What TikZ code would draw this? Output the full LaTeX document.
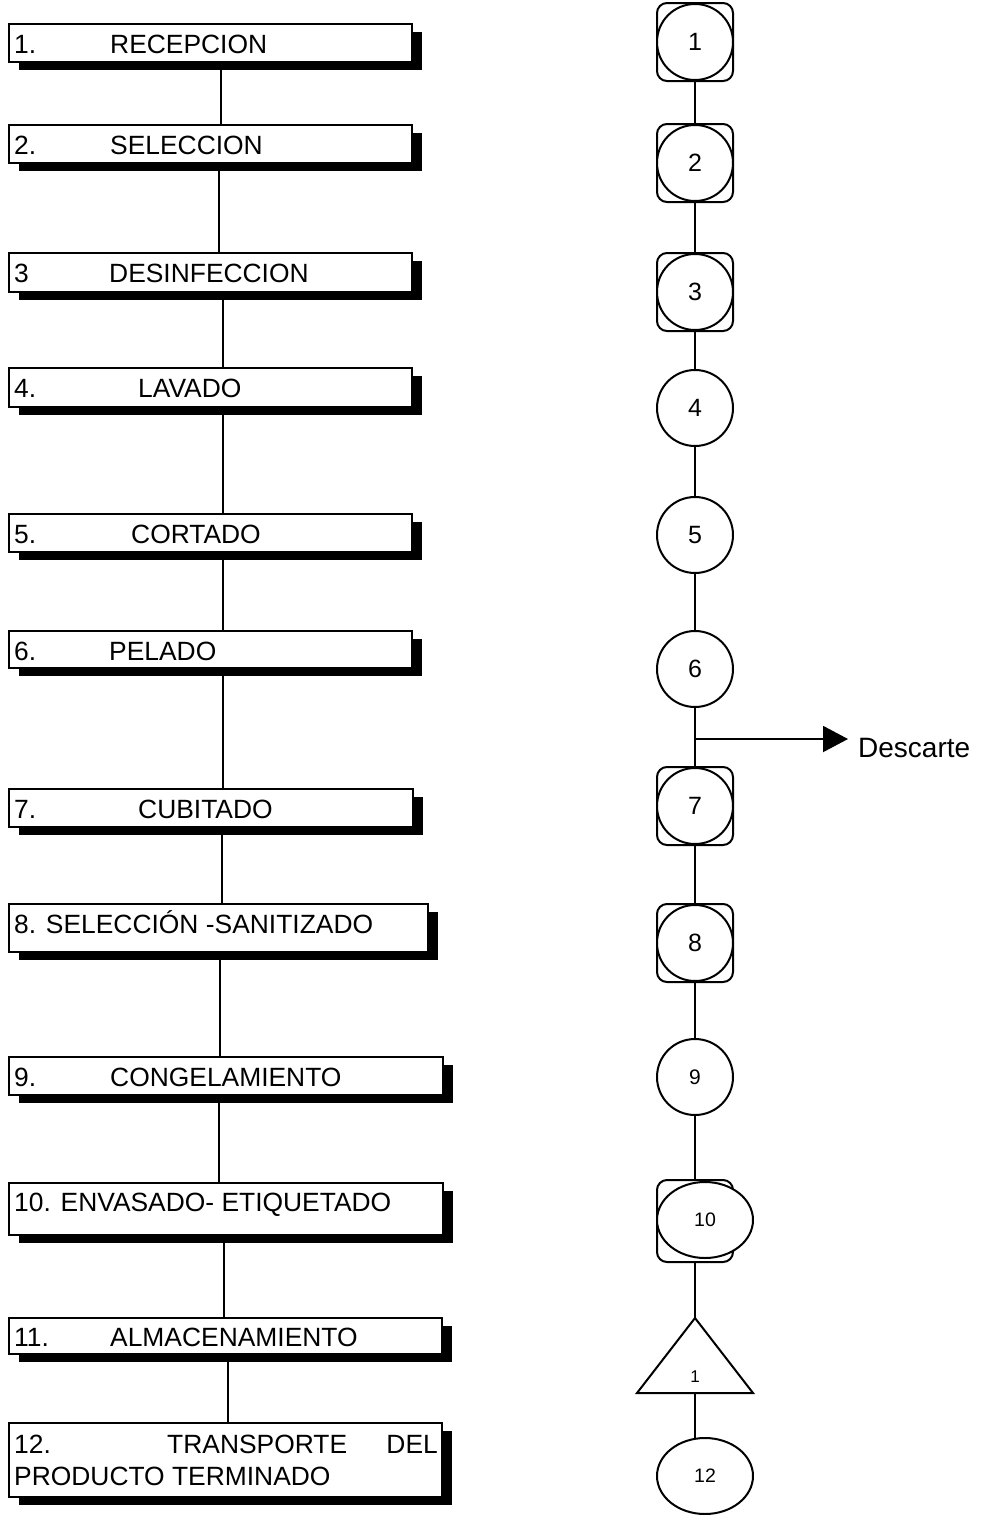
\documentclass[tikz,border=0pt]{standalone}
\usepackage{fontspec}
\setmainfont{Liberation Sans}
\usetikzlibrary{shadows,arrows.meta,shapes.geometric}
\begin{document}
\begin{tikzpicture}[x=1pt,y=-1pt,
  pbox/.style 2 args={draw, fill=white, line width=2pt, anchor=north west, inner sep=0pt, outer sep=0pt,
    minimum width=#1pt, minimum height=#2pt,
    drop shadow={shadow xshift=10pt, shadow yshift=-8pt, opacity=1, fill=black}},
  lbl/.style={anchor=base west, inner sep=0pt, font=\fontsize{26.4}{30}\selectfont},
  conn/.style={line width=2pt},
  sq/.style={draw, line width=2pt, rounded corners=10pt, minimum width=76pt, minimum height=78pt, inner sep=0pt, outer sep=0pt},
  circ/.style={draw, fill=white, circle, line width=2pt, minimum size=76pt, inner sep=0pt, outer sep=0pt, font=\fontsize{25}{27}\selectfont},
  ell/.style={draw, fill=white, ellipse, line width=2pt, minimum width=96pt, minimum height=76pt, inner sep=0pt, outer sep=0pt, font=\fontsize{19.5}{21}\selectfont}
]
\useasboundingbox (0,0) rectangle (990,1515);

% ---------- left column: process boxes ----------
\node[pbox={403}{38}] (b1) at (9,24) {};
\node[pbox={403}{38}] (b2) at (9,125) {};
\node[pbox={403}{39}] (b3) at (9,253) {};
\node[pbox={403}{39}] (b4) at (9,368) {};
\node[pbox={403}{38}] (b5) at (9,514) {};
\node[pbox={403}{37}] (b6) at (9,631) {};
\node[pbox={404}{38}] (b7) at (9,789) {};
\node[pbox={419}{48}] (b8) at (9,904) {};
\node[pbox={434}{38}] (b9) at (9,1057) {};
\node[pbox={434}{52}] (b10) at (9,1183) {};
\node[pbox={433}{36}] (b11) at (9,1318) {};
\node[pbox={433}{74}] (b12) at (9,1423) {};

\node[lbl] (t1a) at (14,53) {1.};   \node[lbl] (t1b) at (110,53) {RECEPCION};
\node[lbl] (t2a) at (14,154) {2.};  \node[lbl] (t2b) at (110,154) {SELECCION};
\node[lbl] (t3a) at (14,282) {3};   \node[lbl] (t3b) at (109,282) {DESINFECCION};
\node[lbl] (t4a) at (14,397) {4.};  \node[lbl] (t4b) at (138,397) {LAVADO};
\node[lbl] (t5a) at (14,543) {5.};  \node[lbl] (t5b) at (131,543) {CORTADO};
\node[lbl] (t6a) at (14,660) {6.};  \node[lbl] (t6b) at (109,660) {PELADO};
\node[lbl] (t7a) at (14,818) {7.};  \node[lbl] (t7b) at (138,818) {CUBITADO};
\node[lbl] (t8a) at (14,933) {8. SELECCIÓN -SANITIZADO};
\node[lbl] (t9a) at (14,1086) {9.}; \node[lbl] (t9b) at (110,1086) {CONGELAMIENTO};
\node[lbl] (t10a) at (14,1211) {10. ENVASADO- ETIQUETADO};
\node[lbl] (t11a) at (14,1346) {11.}; \node[lbl] (t11b) at (110,1346) {ALMACENAMIENTO};
\node[lbl] (t12a) at (14,1453) {12.}; \node[lbl] (t12b) at (167,1453) {TRANSPORTE};
\node[lbl, anchor=base east] (t12c) at (438,1453) {DEL};
\node[lbl] (t12d) at (14,1485) {PRODUCTO TERMINADO};

% connector x positions
\coordinate (x12) at (221,0);
\coordinate (x23) at (219,0);
\coordinate (x34) at (223,0);
\coordinate (x45) at (223,0);
\coordinate (x56) at (223,0);
\coordinate (x67) at (223,0);
\coordinate (x78) at (222,0);
\coordinate (x89) at (220,0);
\coordinate (x910) at (219,0);
\coordinate (x1011) at (224,0);
\coordinate (x1112) at (228,0);

\draw[conn] (b1.south -| x12) -- (b2.north -| x12);
\draw[conn] (b2.south -| x23) -- (b3.north -| x23);
\draw[conn] (b3.south -| x34) -- (b4.north -| x34);
\draw[conn] (b4.south -| x45) -- (b5.north -| x45);
\draw[conn] (b5.south -| x56) -- (b6.north -| x56);
\draw[conn] (b6.south -| x67) -- (b7.north -| x67);
\draw[conn] (b7.south -| x78) -- (b8.north -| x78);
\draw[conn] (b8.south -| x89) -- (b9.north -| x89);
\draw[conn] (b9.south -| x910) -- (b10.north -| x910);
\draw[conn] (b10.south -| x1011) -- (b11.north -| x1011);
\draw[conn] (b11.south -| x1112) -- (b12.north -| x1112);

% ---------- right column: symbols ----------
\node[sq] (s1) at (695,42) {};  \node[circ] (c1) at (695,42) {1};
\node[sq] (s2) at (695,163) {}; \node[circ] (c2) at (695,163) {2};
\node[sq] (s3) at (695,292) {}; \node[circ] (c3) at (695,292) {3};
\node[circ] (c4) at (695,408) {4};
\node[circ] (c5) at (695,535) {5};
\node[circ] (c6) at (695,669) {6};
\node[sq] (s7) at (695,806) {}; \node[circ] (c7) at (695,806) {7};
\node[sq] (s8) at (695,943) {}; \node[circ] (c8) at (695,943) {8};
\node[circ, font=\fontsize{21}{23}\selectfont] (c9) at (695,1077) {9};
\node[sq, minimum height=82pt] (s10) at (695,1221) {};
\node[ell] (e10) at (705,1220) {10};

\coordinate (tA) at (695,1318);
\coordinate (tB) at (695,1393);
\draw[line width=2pt, line join=miter] (tA) -- (753,1393) -- (637,1393) -- cycle;
\node[inner sep=0pt, font=\fontsize{17}{19}\selectfont] (t1) at (695,1377) {1};

\node[ell] (e12) at (705,1476) {12};

\draw[conn] (s1.south) -- (s2.north);
\draw[conn] (s2.south) -- (s3.north);
\draw[conn] (s3.south) -- (c4.north);
\draw[conn] (c4.south) -- (c5.north);
\draw[conn] (c5.south) -- (c6.north);
\draw[conn] (c6.south) -- (s7.north);
\draw[conn] (s7.south) -- (s8.north);
\draw[conn] (s8.south) -- (c9.north);
\draw[conn] (c9.south) -- (s10.north);
\draw[conn] (s10.south) -- (tA);
\draw[conn] (tB) -- (tB |- e12.north);

% discard branch
\coordinate (d0) at (695,739);
\coordinate (dt) at (848,739);
\draw[conn, -{Triangle[length=25pt,width=26pt]}] (d0) -- (dt);
\node[anchor=base west, inner sep=0pt, font=\fontsize{28}{30}\selectfont] (desc) at (858,757) {Descarte};
\end{tikzpicture}
\end{document}
